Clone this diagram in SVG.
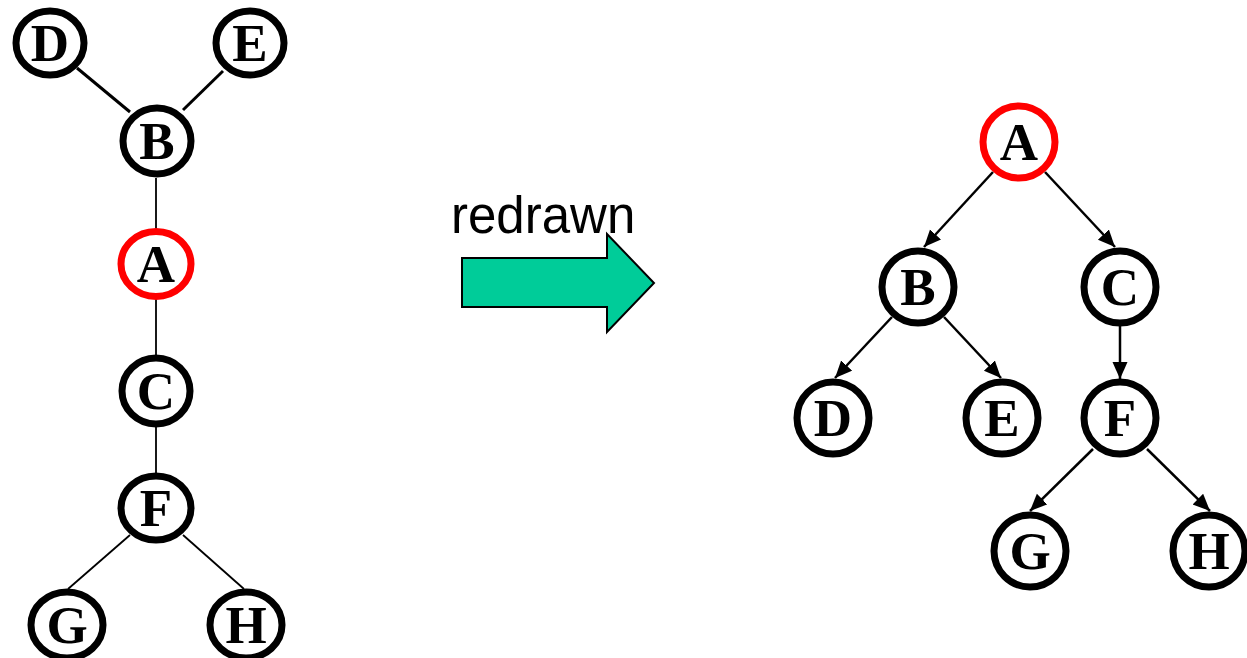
<svg xmlns="http://www.w3.org/2000/svg" width="1247" height="658" viewBox="0 0 1247 658">
<style>
.n{fill:#fff;stroke:#000;stroke-width:7}
.r{fill:#fff;stroke:#ff0000;stroke-width:7}
.t{font-family:"Liberation Serif","Times New Roman",serif;font-weight:bold;font-size:53px;text-anchor:middle;fill:#000}
.l{stroke:#000;stroke-width:1.8;fill:none}
.lt{stroke:#000;stroke-width:3;fill:none}
.a{stroke:#000;stroke-width:2.5;fill:none;marker-end:url(#ah)}
</style>
<defs>
<marker id="ah" markerUnits="userSpaceOnUse" markerWidth="18" markerHeight="16" refX="17" refY="7.5" orient="auto">
<path d="M0,0 L17,7.5 L0,15 z" fill="#000"/>
</marker>
</defs>
<rect width="1247" height="658" fill="#fff"/>
<g id="connectors">
<line class="lt" x1="77" y1="68" x2="130" y2="112"/>
<line class="lt" x1="223" y1="71" x2="183" y2="110"/>
<line class="l" x1="156" y1="178" x2="156" y2="230"/>
<line class="l" x1="156" y1="298" x2="156" y2="357"/>
<line class="l" x1="156" y1="425" x2="156" y2="475"/>
<line class="l" x1="130" y1="535" x2="68" y2="589"/>
<line class="l" x1="183" y1="535" x2="244" y2="589"/>
<line class="a" x1="993" y1="172" x2="924" y2="247"/>
<line class="a" x1="1045" y1="172" x2="1115" y2="247"/>
<line class="a" x1="892" y1="317" x2="835" y2="378"/>
<line class="a" x1="944" y1="317" x2="1001" y2="378"/>
<line class="a" x1="1120" y1="326" x2="1120" y2="379"/>
<line class="a" x1="1093" y1="449" x2="1030" y2="511"/>
<line class="a" x1="1147" y1="449" x2="1210" y2="511"/>
</g>
<g id="L-D"><ellipse class="n" cx="50" cy="43" rx="34" ry="32"/><text class="t" x="50" y="61">D</text></g>
<g id="L-E"><ellipse class="n" cx="250" cy="43" rx="34" ry="32"/><text class="t" x="250" y="61">E</text></g>
<g id="L-B"><ellipse class="n" cx="157" cy="141" rx="34" ry="33"/><text class="t" x="157" y="159">B</text></g>
<g id="L-A"><ellipse class="r" cx="156" cy="264" rx="35" ry="32.5"/><text class="t" x="156" y="282">A</text></g>
<g id="L-C"><ellipse class="n" cx="156" cy="391" rx="34" ry="33"/><text class="t" x="156" y="409">C</text></g>
<g id="L-F"><ellipse class="n" cx="156" cy="508" rx="35" ry="32"/><text class="t" x="156" y="526">F</text></g>
<g id="L-G"><ellipse class="n" cx="67" cy="625" rx="36" ry="33"/><text class="t" x="67" y="643">G</text></g>
<g id="L-H"><ellipse class="n" cx="246" cy="625" rx="36" ry="33"/><text class="t" x="246" y="643">H</text></g>
<g id="label"><text x="451" y="233" font-family="'Liberation Sans',Arial,sans-serif" font-size="51" fill="#000">redrawn</text></g>
<g id="bigarrow"><polygon points="462,258 607,258 607,234 654,283 607,332 607,307 462,307" fill="#00cc99" stroke="#000" stroke-width="2"/></g>
<g id="R-A"><circle class="r" cx="1019" cy="142" r="36"/><text class="t" x="1019" y="160">A</text></g>
<g id="R-B"><circle class="n" cx="918" cy="287" r="36"/><text class="t" x="918" y="305">B</text></g>
<g id="R-C"><circle class="n" cx="1120" cy="287" r="36"/><text class="t" x="1120" y="305">C</text></g>
<g id="R-D"><circle class="n" cx="833" cy="418" r="36"/><text class="t" x="833" y="436">D</text></g>
<g id="R-E"><circle class="n" cx="1002" cy="418" r="36"/><text class="t" x="1002" y="436">E</text></g>
<g id="R-F"><circle class="n" cx="1120" cy="418" r="36"/><text class="t" x="1120" y="436">F</text></g>
<g id="R-G"><circle class="n" cx="1030" cy="551" r="36"/><text class="t" x="1030" y="569">G</text></g>
<g id="R-H"><circle class="n" cx="1209" cy="551" r="36"/><text class="t" x="1209" y="569">H</text></g>
</svg>
